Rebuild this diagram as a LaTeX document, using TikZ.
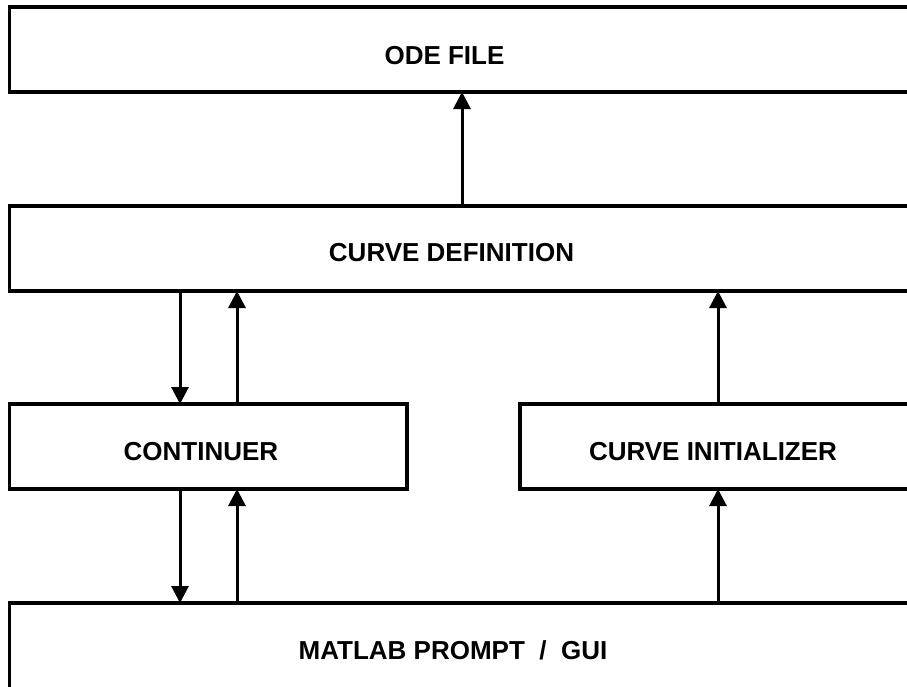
\documentclass[tikz,border=0pt]{standalone}
\usepackage{fontspec}
\setmainfont{Liberation Sans}
\usetikzlibrary{arrows.meta}

\begin{document}
\begin{tikzpicture}
		[x=1pt,y=-1pt,
		blk/.style={draw,line width=3.5pt,rectangle,inner sep=0pt,outer sep=0pt},
		lbl/.style={font=\fontsize{26}{31}\selectfont\bfseries,inner sep=0pt},
		arr/.style={line width=3pt,-{Triangle[length=17pt,width=17pt]}}]
		\useasboundingbox (0,0) rectangle (907,686);

		\node[blk,minimum width=905.5pt,minimum height=85pt] (ode) at (462.25,49.5) {};
		\node[blk,minimum width=905.5pt,minimum height=85pt] (cdef) at (462.25,248.5) {};
		\node[blk,minimum width=397.5pt,minimum height=85pt] (cont) at (208.25,446.5) {};
		\node[blk,minimum width=395pt,minimum height=85pt] (init) at (717.5,446.5) {};
		\node[blk,minimum width=905.5pt,minimum height=100pt] (gui) at (462.25,653) {};

		\node[lbl] (odetxt) at (444.5,55.3) {ODE FILE};
		\node[lbl] (cdeftxt) at (451.5,252.5) {CURVE DEFINITION};
		\node[lbl] (conttxt) at (201,451.5) {CONTINUER};
		\node[lbl] (inittxt) at (713,451.5) {CURVE INITIALIZER};
		\node[lbl] (guitxt) at (453,650.5) {MATLAB PROMPT\ \ /\ \ GUI};

		\draw[arr] ([xshift=452.5pt]cdef.north west) -- ([xshift=452.5pt]ode.south west);
		\draw[arr] ([xshift=170.5pt]cdef.south west) -- ([xshift=170.5pt]cont.north west);
		\draw[arr] ([xshift=227.5pt]cont.north west) -- ([xshift=227.5pt]cdef.south west);
		\draw[arr] ([xshift=198pt]init.north west) -- ([xshift=708.5pt]cdef.south west);
		\draw[arr] ([xshift=170.5pt]cont.south west) -- ([xshift=170.5pt]gui.north west);
		\draw[arr] ([xshift=227.5pt]gui.north west) -- ([xshift=227.5pt]cont.south west);
		\draw[arr] ([xshift=708.5pt]gui.north west) -- ([xshift=198pt]init.south west);

	\end{tikzpicture}
\end{document}
